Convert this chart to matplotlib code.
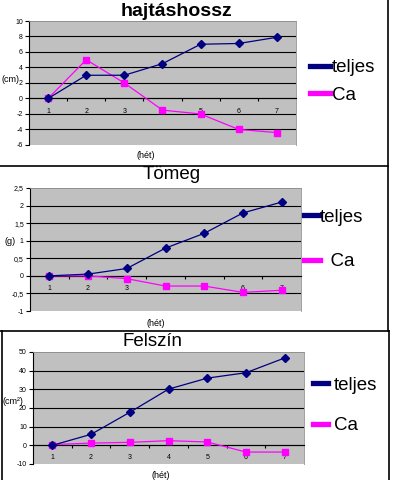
import matplotlib
matplotlib.use('Agg')
import matplotlib.pyplot as plt
from matplotlib.lines import Line2D
from matplotlib.ticker import FixedLocator, FuncFormatter

plt.rcParams['font.family'] = ['Liberation Sans', 'DejaVu Sans']

W, H = 400, 480

weeks = [1, 2, 3, 4, 5, 6, 7]
series_names = ["teljes", "Ca"]

# hajtáshossz (cm)
length_teljes = [0, 3, 3, 4.5, 7, 7.1, 7.9]
length_ca = [0, 5, 2, -1.5, -2, -4, -4.4]
length_ticks = [-6, -4, -2, 0, 2, 4, 6, 8, 10]

# Tömeg (g)
mass_teljes = [0, 0.05, 0.21, 0.79, 1.21, 1.79, 2.1]
mass_ca = [0, 0, -0.08, -0.29, -0.29, -0.47, -0.41]
mass_ticks = [-1, -0.5, 0, 0.5, 1, 1.5, 2, 2.5]

# Felszín (cm2)
area_teljes = [0, 5.9, 17.7, 30.1, 36, 38.9, 46.8]
area_ca = [0.4, 1.2, 1.6, 2.5, 1.8, -3.6, -3.6]
area_ticks = [-10, 0, 10, 20, 30, 40, 50]

NAVY = '#000080'
MAGENTA = '#ff00ff'


def px_rect(l, t, r, b):
    return [l / W, 1 - b / H, (r - l) / W, (b - t) / H]


def fx(x):
    return x / W


def fy(y):
    return 1 - y / H


def comma(v, pos):
    return ('%g' % v).replace('.', ',')


def panel(fig, rect, teljes, ca, yticks):
    ax = fig.add_axes(rect)
    ax.set_facecolor('#c0c0c0')
    ax.plot(weeks, teljes, color=NAVY, lw=0.9, marker='D', ms=3.8,
            mec=NAVY, mfc=NAVY, zorder=4, clip_on=False)
    ax.plot(weeks, ca, color=MAGENTA, lw=0.9, marker='s', ms=5,
            mec=MAGENTA, mfc=MAGENTA, zorder=3, clip_on=False)
    ax.set_xlim(0.5, 7.5)
    ax.set_ylim(yticks[0], yticks[-1])
    ax.yaxis.set_major_locator(FixedLocator(yticks))
    ax.yaxis.set_major_formatter(FuncFormatter(comma))
    ax.yaxis.grid(True, color='black', lw=0.8)
    gl = ax.get_ygridlines()
    gl[0].set_visible(False)
    gl[-1].set_visible(False)
    ax.set_axisbelow(True)

    ax.set_xticks(weeks)
    ax.set_xticks([w + 0.5 for w in weeks[:-1]], minor=True)
    ax.tick_params(axis='x', which='major', length=0, pad=6.5,
                   labelsize=5)
    ax.tick_params(axis='x', which='minor', length=2.5, width=0.8,
                   direction='out')
    ax.tick_params(axis='y', length=3, width=0.8, pad=1.5, labelsize=5)

    ax.spines['bottom'].set_position(('data', 0))
    ax.spines['bottom'].set_linewidth(0.8)
    ax.spines['left'].set_linewidth(0.8)
    for s in ('top', 'right'):
        ax.spines[s].set_color('#909090')
        ax.spines[s].set_linewidth(0.6)
    ax.add_patch(plt.Rectangle((0, 0), 1, 1, transform=ax.transAxes,
                               fill=False, ec='#909090', lw=0.6, zorder=0.5))
    return ax


def legend(fig, x, y, labels, spacing, hlen, pad):
    handles = [Line2D([], [], color=NAVY, lw=3.8),
               Line2D([], [], color=MAGENTA, lw=3.8)]
    fig.legend(handles, labels, loc='center left',
               bbox_to_anchor=(fx(x), fy(y)), bbox_transform=fig.transFigure,
               frameon=False, fontsize=13.5, borderpad=0, borderaxespad=0,
               labelspacing=spacing, handlelength=hlen, handletextpad=pad)


fig = plt.figure(figsize=(W / 100, H / 100), dpi=100)

# panel frames
frame = dict(color='black', lw=1.2)
fig.add_artist(Line2D([fx(388), fx(388)], [fy(0), fy(331)], **frame))
fig.add_artist(Line2D([fx(0), fx(388)], [fy(166), fy(166)], **frame))
fig.add_artist(Line2D([fx(0), fx(389)], [fy(331), fy(331)], **frame))
fig.add_artist(Line2D([fx(2), fx(2)], [fy(331), fy(480)], **frame))
fig.add_artist(Line2D([fx(389), fx(389)], [fy(331), fy(480)], **frame))

ax1 = panel(fig, px_rect(29, 21, 296, 145), length_teljes, length_ca, length_ticks)
fig.text(fx(176), fy(12), "hajtáshossz", fontsize=14, fontweight='bold',
         ha='center', va='center')
fig.text(fx(10), fy(80), "(cm)", fontsize=6.5, ha='center', va='center')
fig.text(fx(146), fy(155), "(hét)", fontsize=6.5, ha='center', va='center')
legend(fig, 310, 81.5, series_names, 0.55, 1.05, 0.1)

ax2 = panel(fig, px_rect(30, 188, 301, 311), mass_teljes, mass_ca, mass_ticks)
fig.text(fx(172), fy(175), "Tömeg", fontsize=13.5, ha='center', va='center')
fig.text(fx(10), fy(241), "(g)", fontsize=6.5, ha='center', va='center')
fig.text(fx(156), fy(323), "(hét)", fontsize=6.5, ha='center', va='center')
legend(fig, 304, 239.5, [series_names[0], "  " + series_names[1]], 1.45, 0.85, 0.0)

ax3 = panel(fig, px_rect(33, 352, 304, 464), area_teljes, area_ca, area_ticks)
fig.text(fx(152), fy(342), "Felszín", fontsize=13.5, ha='center', va='center')
fig.text(fx(13), fy(401), "(cm²)", fontsize=6.5, ha='center', va='center')
fig.text(fx(161), fy(476), "(hét)", fontsize=6.5, ha='center', va='center')
legend(fig, 313, 405.5, series_names, 1.25, 0.8, 0.3)

fig.savefig('out.png', dpi=100)
